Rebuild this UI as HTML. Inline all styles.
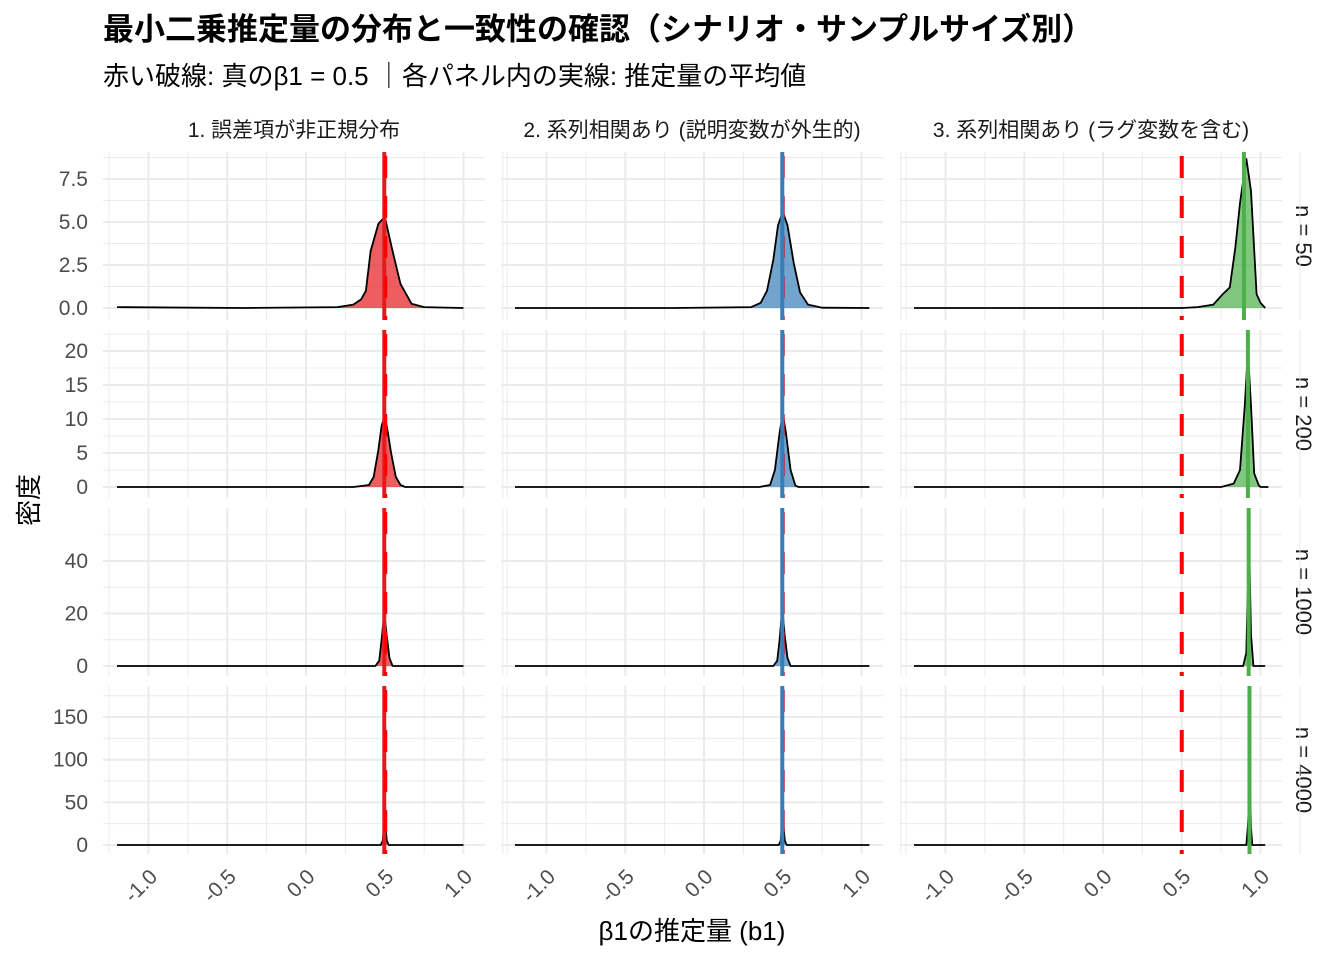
<!DOCTYPE html>
<html><head><meta charset="utf-8"><style>
body{margin:0;background:#fff;}
svg text{font-family:"Liberation Sans","Noto Sans CJK JP",sans-serif;}
</style></head><body>
<svg id="chart" width="1344" height="960" xmlns="http://www.w3.org/2000/svg">
<text x="103" y="40" font-size="31" font-weight="bold" fill="#000">最小二乗推定量の分布と一致性の確認（シナリオ・サンプルサイズ別）</text>
<text x="103" y="85" font-size="26" fill="#000">赤い破線: 真のβ1 = 0.5 ｜各パネル内の実線: 推定量の平均値</text>
<text x="692" y="940" font-size="26" text-anchor="middle" fill="#000">β1の推定量 (b1)</text>
<text transform="translate(38,500) rotate(-90)" font-size="26" text-anchor="middle" fill="#000">密度</text>
<g id="panels"></g>
</svg>
<script>
const scenarios = ["1. 誤差項が非正規分布","2. 系列相関あり (説明変数が外生的)","3. 系列相関あり (ラグ変数を含む)"];
const sampleSizes = ["n = 50","n = 200","n = 1000","n = 4000"];
const trueBeta = 0.5;
const xTicks = [-1.0,-0.5,0.0,0.5,1.0];
const xTickLabels = ["-1.0","-0.5","0.0","0.5","1.0"];
const yTicksRow = [[0,2.5,5,7.5],[0,5,10,15,20],[0,20,40],[0,50,100,150]];
const yTickLabelsRow = [["0.0","2.5","5.0","7.5"],["0","5","10","15","20"],["0","20","40"],["0","50","100","150"]];
const meansCol1 = [0.497,0.497,0.497,0.497];
const meansCol2 = [0.497,0.497,0.497,0.497];
const meansCol3 = [0.895,0.92,0.925,0.93];
// density curves [row][col]: x values and y values
const densX = [
 [[-1.2,-0.4,0.2,0.3,0.35,0.38,0.41,0.46,0.5,0.55,0.6,0.67,0.75,1.0],
  [-1.2,-0.2,0.3,0.36,0.4,0.44,0.47,0.5,0.53,0.57,0.61,0.66,0.75,1.05],
  [-1.2,0.5,0.6,0.7,0.76,0.805,0.84,0.87,0.91,0.94,0.975,1.0,1.03]],
 [[-1.2,0.3,0.4,0.43,0.46,0.48,0.5,0.52,0.54,0.57,0.6,0.63,1.0],
  [-1.2,0.35,0.42,0.45,0.48,0.5,0.52,0.55,0.58,0.6,1.05],
  [-1.2,0.75,0.83,0.87,0.9,0.92,0.94,0.96,0.99,1.0,1.05]],
 [[-1.2,0.44,0.465,0.48,0.497,0.512,0.53,0.55,1.0],
  [-1.2,0.44,0.465,0.48,0.497,0.512,0.53,0.55,1.05],
  [-1.2,0.89,0.91,0.92,0.93,0.94,0.955,1.03]],
 [[-1.2,0.475,0.487,0.494,0.5,0.506,0.513,0.525,1.0],
  [-1.2,0.475,0.487,0.494,0.5,0.506,0.513,0.525,1.05],
  [-1.2,0.91,0.92,0.927,0.934,0.94,0.948,1.03]]
];
const densY = [
 [[0.05,0,0.05,0.2,0.5,1.0,3.3,4.9,5.3,3.3,1.4,0.25,0.05,0],
  [0,0,0.05,0.3,1.0,2.8,4.8,5.6,4.8,2.6,0.9,0.2,0.02,0],
  [0,0,0.05,0.2,0.8,1.2,3.5,6.1,8.7,6.8,0.8,0.3,0]],
 [[0,0,0.3,1.5,5.5,9,10.5,8,5,1.5,0.3,0,0],
  [0,0,0.3,2.5,8,10.8,8,2.5,0.2,0,0],
  [0,0,0.5,2.5,12,20,12,2,0.2,0,0]],
 [[0,0,2,10,20.5,12,3,0,0],
  [0,0,2,10,22,12,3,0,0],
  [0,0,5,30,40,12,0,0]],
 [[0,0,5,20,32,20,5,0,0],
  [0,0,5,22,34,20,5,0,0],
  [0,0,22,50,69,20,0,0]]
];
const colLeft=[103,501,900], panelW=382;
const rowTop=[152,330,508,686], panelH=168;
const zeroOff=[156,157,158,159];
const pxPerUnit=[17.2,6.8,2.625,0.853];
const xPx=157.5, xZeroOff=306-103;
const colors=["#E41A1C","#377EB8","#4DAF4A"];
const means=[meansCol1,meansCol2,meansCol3];
const NS="http://www.w3.org/2000/svg";
const root=document.getElementById('panels');
function mk(tag,attrs,parent){const e=document.createElementNS(NS,tag);for(const k in attrs)e.setAttribute(k,attrs[k]);(parent||root).appendChild(e);return e;}
function xs(c,v){return colLeft[c]+xZeroOff+v*xPx;}
function ys(r,v){return rowTop[r]+zeroOff[r]-v*pxPerUnit[r];}
for(let c=0;c<3;c++){
 const t=mk('text',{x:colLeft[c]+panelW/2,y:137,'font-size':21,'text-anchor':'middle',fill:'#1a1a1a'});
 
 
 t.textContent=scenarios[c];
}
for(let r=0;r<4;r++){
 const t=mk('text',{transform:`translate(1296,${rowTop[r]+panelH/2}) rotate(90)`,'font-size':22,'text-anchor':'middle',fill:'#1a1a1a'});
 
 
 t.textContent=sampleSizes[r];
 for(let c=0;c<3;c++){
  const g=mk('g',{});
  
  
  const L=colLeft[c],T=rowTop[r],B=T+panelH;
  for(let i=0;i<xTicks.length+1;i++){const v=xTicks[0]-0.25+i*0.5;mk('line',{x1:xs(c,v),x2:xs(c,v),y1:T,y2:B,stroke:'#ebebeb','stroke-width':1},g);}
  const yt=yTicksRow[r];const step=yt[1]-yt[0];
  for(let i=0;i<yt.length;i++){const v=yt[i]+step/2;if(ys(r,v)>T)mk('line',{x1:L,x2:L+panelW,y1:ys(r,v),y2:ys(r,v),stroke:'#ebebeb','stroke-width':1},g);}
  for(const v of xTicks)mk('line',{x1:xs(c,v),x2:xs(c,v),y1:T,y2:B,stroke:'#ebebeb','stroke-width':2},g);
  yt.forEach((v,i)=>{mk('line',{x1:L,x2:L+panelW,y1:ys(r,v),y2:ys(r,v),stroke:'#ebebeb','stroke-width':2},g);
   if(c===0){const tl=mk('text',{x:88,y:ys(r,v)+7,'font-size':21,'text-anchor':'end',fill:'#4d4d4d'},g);
    
    
    tl.textContent=yTickLabelsRow[r][i];}});
  const dx=densX[r][c],dy=densY[r][c];
  let d='M'+xs(c,dx[0])+','+ys(r,0);
  for(let i=0;i<dx.length;i++)d+=' L'+xs(c,dx[i]).toFixed(1)+','+ys(r,dy[i]).toFixed(1);
  d+=' L'+xs(c,dx[dx.length-1])+','+ys(r,0)+'Z';
  const area=mk('path',{d:d,fill:colors[c],'fill-opacity':0.7,stroke:'none'},g);
  
  
  let d2='';for(let i=0;i<dx.length;i++)d2+=(i?' L':'M')+xs(c,dx[i]).toFixed(1)+','+ys(r,dy[i]).toFixed(1);
  const ln=mk('path',{d:d2,fill:'none',stroke:'#000','stroke-width':1.8},g);
  
  
  const tx=xs(c,trueBeta);
  const tl=mk('line',{x1:tx,x2:tx,y1:T,y2:B,stroke:'#FF0000','stroke-width':4,'stroke-dasharray':'22,18','stroke-dashoffset':'-4'},g);
  
  
  const mx=xs(c,means[c][r]);
  const ml=mk('line',{x1:mx,x2:mx,y1:T,y2:B,stroke:colors[c],'stroke-width':4},g);
  
  
  if(c===0){const tl2=mk('line',{x1:tx+1,x2:tx+1,y1:T,y2:B,stroke:'#FF0000','stroke-width':3,'stroke-dasharray':'22,18','stroke-dashoffset':'-4'},g);
   
   }
  if(r===3){xTicks.forEach((v,i)=>{const xl=mk('text',{transform:`translate(${xs(c,v)+10},${878}) rotate(-45)`,'font-size':21,'text-anchor':'end',fill:'#4d4d4d'},g);
   
   
   xl.textContent=xTickLabels[i];});}
 }
}
</script>
</body></html>
